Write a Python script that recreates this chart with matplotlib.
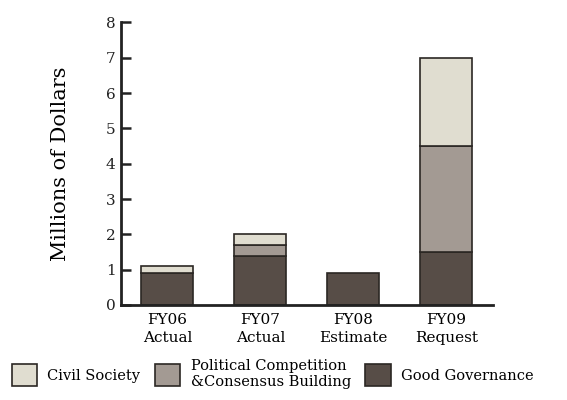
import matplotlib
matplotlib.use("Agg")
import matplotlib.pyplot as plt
from matplotlib.patches import Patch
import numpy as np

categories = ["FY06\nActual", "FY07\nActual", "FY08\nEstimate", "FY09\nRequest"]
good_governance = [0.9, 1.4, 0.9, 1.5]
political_competition = [0.0, 0.3, 0.0, 3.0]
civil_society = [0.2, 0.3, 0.0, 2.5]
yticks = [0, 1, 2, 3, 4, 5, 6, 7, 8]
legend_labels = ["Civil Society", "Political Competition\n&Consensus Building", "Good Governance"]

plt.rcParams['font.family'] = ['DejaVu Serif']

c_cs = "#e0ddd0"
c_pc = "#a39a93"
c_gg = "#574d47"
edge = "#2b2724"

fig = plt.figure(figsize=(5.67, 4.0), dpi=100)
ax = fig.add_axes([0.2134, 0.2375, 0.6556, 0.7065])

x = np.arange(len(categories))
w = 0.56
gg = np.array(good_governance)
pc = np.array(political_competition)
cs = np.array(civil_society)
b1 = ax.bar(x, gg, w, color=c_gg, edgecolor=edge, linewidth=1.2)
b2 = ax.bar(x, pc, w, bottom=gg, color=c_pc, edgecolor=edge, linewidth=1.2)
b3 = ax.bar(x, cs, w, bottom=gg + pc, color=c_cs, edgecolor=edge, linewidth=1.2)
for bars, vals in ((b2, pc), (b3, cs)):
    for r, v in zip(bars, vals):
        if v == 0:
            r.set_visible(False)

ax.set_xlim(-0.5, 3.5)
ax.set_ylim(0, 8)
ax.set_yticks(yticks)
ax.set_yticklabels([str(t) for t in yticks], fontsize=11)
ax.set_xticks(x)
ax.set_xticklabels(categories, fontsize=11, linespacing=1.35)
ax.tick_params(axis='x', length=0, pad=6)
ax.tick_params(axis='y', direction='in', length=7, width=1.8, pad=4, colors='#222222')
for s in ('top', 'right'):
    ax.spines[s].set_visible(False)
for s in ('left', 'bottom'):
    ax.spines[s].set_linewidth(2)
    ax.spines[s].set_color('#222222')
ax.set_ylabel("Millions of Dollars", fontsize=15, labelpad=26)

handles = [Patch(facecolor=c, edgecolor=edge, linewidth=1.2) for c in (c_cs, c_pc, c_gg)]
fig.legend(handles, legend_labels, loc='lower left', bbox_to_anchor=(0.005, 0.005), ncol=3,
           frameon=False, fontsize=10.5, handlelength=1.75, handleheight=1.9,
           handletextpad=0.7, columnspacing=1.0, borderaxespad=0.2)

fig.savefig("out.png", dpi=100)
